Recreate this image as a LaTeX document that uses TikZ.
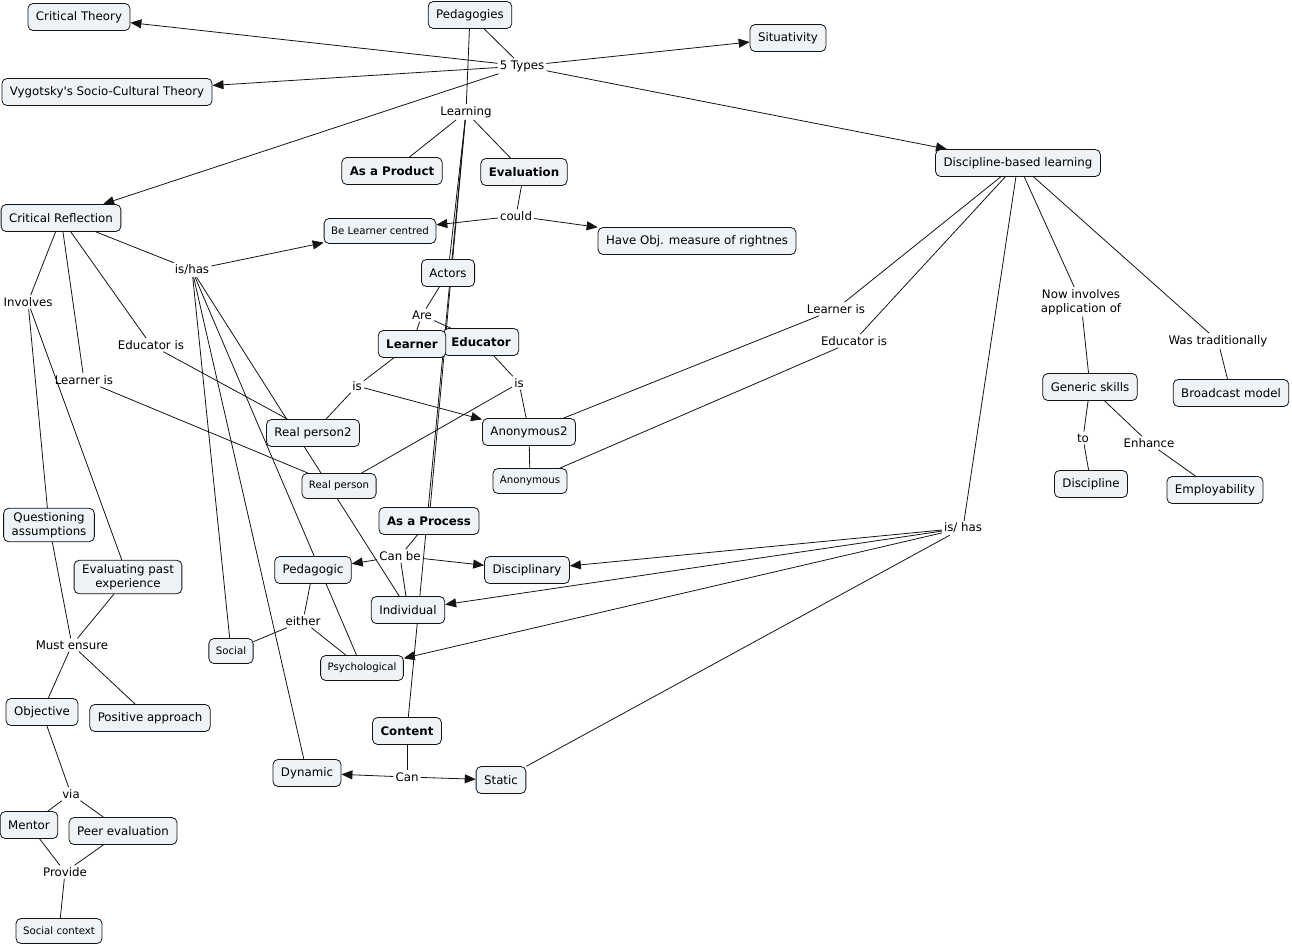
\documentclass[tikz,border=0pt]{standalone}
\usepackage{fontspec}
\setmainfont{DejaVu Sans}[Ligatures=TeXOff]
\usetikzlibrary{arrows.meta}
\pgfdeclarelayer{bg}
\pgfsetlayers{bg,main}
\definecolor{cfill}{RGB}{237,243,246}
\definecolor{cline}{RGB}{20,20,20}
\tikzset{
 concept/.style={draw=cline, fill=cfill, rounded corners=5pt, line width=0.8pt, inner xsep=8pt, inner ysep=2pt, minimum height=27pt, font=\fontsize{11.8}{14}\selectfont, align=center},
 sm/.style={font=\fontsize{10.2}{12}\selectfont, minimum height=25pt, inner xsep=7pt},
 bd/.style={font=\fontsize{11.8}{14}\selectfont\bfseries},
 lp/.style={inner sep=2pt, font=\fontsize{11.8}{14}\selectfont, align=center},
 ln/.style={line width=0.8pt, cline},
 ar/.style={ln, -{Triangle[length=11pt,width=9pt]}},
}
\begin{document}
\begin{tikzpicture}[x=1pt,y=-1pt]
\useasboundingbox (0,0) rectangle (1292,945);
% concepts
\node[concept] (ct) at (79,17) {Critical Theory};
\node[concept] (ped) at (470,15) {Pedagogies};
\node[concept] (sit) at (788,38) {Situativity};
\node[concept] (vyg) at (107,92) {Vygotsky's Socio-Cultural Theory};
\node[concept,bd] (prod) at (392,171) {As a Product};
\node[concept,bd] (eval) at (524,172) {Evaluation};
\node[concept] (dbl) at (1018,163) {Discipline-based learning};
\node[concept] (cr) at (61,218) {Critical Reflection};
\node[concept,sm] (blc) at (380,231) {Be Learner centred};
\node[concept] (hom) at (697,241) {Have Obj. measure of rightnes};
\node[concept] (act) at (448,273) {Actors};
\node[concept,bd] (edu) at (481,342) {Educator};
\node[concept,bd] (lrn) at (412,344) {Learner};
\node[concept] (rp2) at (313,433) {Real person2};
\node[concept] (an2) at (529,432) {Anonymous2};
\node[concept,sm] (rp) at (339,486) {Real person};
\node[concept,sm] (an) at (530,481) {Anonymous};
\node[concept,bd] (proc) at (429,521) {As a Process};
\node[concept] (pedg) at (313,570) {Pedagogic};
\node[concept] (disc) at (527,570) {Disciplinary};
\node[concept] (ind) at (408,610) {Individual};
\node[concept,sm] (soc) at (231,651) {Social};
\node[concept,sm] (psy) at (362,668) {Psychological};
\node[concept,bd] (cont) at (407,731) {Content};
\node[concept] (dyn) at (307,773) {Dynamic};
\node[concept] (stat) at (501,780) {Static};
\node[concept,inner ysep=4pt] (qa) at (49,525) {Questioning\\assumptions};
\node[concept,inner ysep=4pt] (epe) at (128,577) {Evaluating past\\experience};
\node[concept] (obj) at (42,712) {Objective};
\node[concept] (pos) at (150,718) {Positive approach};
\node[concept] (men) at (29,825) {Mentor};
\node[concept] (peer) at (123,831) {Peer evaluation};
\node[concept,sm] (sctx) at (59,931) {Social context};
\node[concept] (gen) at (1090,387) {Generic skills};
\node[concept] (bro) at (1231,393) {Broadcast model};
\node[concept] (dis2) at (1091,484) {Discipline};
\node[concept] (emp) at (1215,490) {Employability};
% linking phrases
\node[lp] (l5) at (522,66) {5 Types};
\node[lp] (llearn) at (466,112) {Learning};
\node[lp] (lcould) at (516,216) {could};
\node[lp] (lish) at (192,270) {is/has};
\node[lp] (linv) at (28,302) {Involves};
\node[lp] (ledu) at (151,345) {Educator is};
\node[lp] (llrn) at (84,380) {Learner is};
\node[lp] (lare) at (422,315) {Are};
\node[lp] (lis1) at (357,386) {is};
\node[lp] (lis2) at (519,383) {is};
\node[lp] (lcanbe) at (400,556) {Can be};
\node[lp] (leither) at (303,621) {either};
\node[lp] (lcan) at (407,777) {Can};
\node[lp] (lmust) at (72,645) {Must ensure};
\node[lp] (lvia) at (71,794) {via};
\node[lp] (lprov) at (65,872) {Provide};
\node[lp] (llrn2) at (836,309) {Learner is};
\node[lp] (ledu2) at (854,341) {Educator is};
\node[lp] (lnow) at (1081,302) {Now involves\\application of};
\node[lp] (lwas) at (1218,341) {Was traditionally};
\node[lp] (lto) at (1083,438) {to};
\node[lp] (lenh) at (1149,443) {Enhance};
\node[lp] (lish2) at (963,528) {is/ has};
% connectors
\begin{pgfonlayer}{bg}
\draw[ln] (ped) -- (l5);
\draw[ar] (l5) -- (ct);
\draw[ar] (l5) -- (vyg);
\draw[ar] (l5) -- (cr);
\draw[ar] (l5) -- (sit);
\draw[ar] (l5) -- (dbl);
\draw[ln] (ped) -- (llearn);
\draw[ln] (llearn) -- (prod);
\draw[ln] (llearn) -- (eval);
\draw[ln] (llearn) -- (act);
\draw[ln] (llearn) -- (proc);
\draw[ln] (llearn) -- (cont);
\draw[ln] (eval) -- (lcould);
\draw[ar] (lcould) -- (blc);
\draw[ar] (lcould) -- (hom);
\draw[ln] (cr) -- (lish);
\draw[ar] (lish) -- (blc);
\draw[ln] (lish) -- (soc);
\draw[ln] (lish) -- (dyn);
\draw[ln] (lish) -- (psy);
\draw[ln] (lish) -- (ind);
\draw[ln] (cr) -- (linv);
\draw[ln] (linv) -- (qa);
\draw[ln] (linv) -- (epe);
\draw[ln] (cr) -- (llrn);
\draw[ln] (llrn) -- (rp);
\draw[ln] (cr) -- (ledu);
\draw[ln] (ledu) -- (rp2);
\draw[ln] (qa) -- (lmust);
\draw[ln] (epe) -- (lmust);
\draw[ln] (lmust) -- (obj);
\draw[ln] (lmust) -- (pos);
\draw[ln] (obj) -- (lvia);
\draw[ln] (lvia) -- (men);
\draw[ln] (lvia) -- (peer);
\draw[ln] (men) -- (lprov);
\draw[ln] (peer) -- (lprov);
\draw[ln] (lprov) -- (sctx);
\draw[ln] (act) -- (lare);
\draw[ln] (lare) -- (lrn);
\draw[ln] (lare) -- (edu);
\draw[ln] (lrn) -- (lis1);
\draw[ln] (lis1) -- (rp2);
\draw[ar] (lis1) -- (an2);
\draw[ln] (edu) -- (lis2);
\draw[ln] (lis2) -- (an2);
\draw[ln] (lis2) -- (rp);
\draw[ln] (an2) -- (an);
\draw[ln] (dbl) -- (llrn2);
\draw[ln] (llrn2) -- (an2);
\draw[ln] (dbl) -- (ledu2);
\draw[ln] (ledu2) -- (an);
\draw[ln] (dbl) -- (lish2);
\draw[ar] (lish2) -- (disc);
\draw[ar] (lish2) -- (ind);
\draw[ar] (lish2) -- (psy);
\draw[ln] (lish2) -- (stat);
\draw[ln] (dbl) -- (lnow);
\draw[ln] (lnow) -- (gen);
\draw[ln] (dbl) -- (lwas);
\draw[ln] (lwas) -- (bro);
\draw[ln] (gen) -- (lto);
\draw[ln] (lto) -- (dis2);
\draw[ln] (gen) -- (lenh);
\draw[ln] (lenh) -- (emp);
\draw[ln] (cont) -- (lcan);
\draw[ar] (lcan) -- (dyn);
\draw[ar] (lcan) -- (stat);
\draw[ln] (proc) -- (lcanbe);
\draw[ar] (lcanbe) -- (pedg);
\draw[ar] (lcanbe) -- (disc);
\draw[ln] (lcanbe) -- (ind);
\draw[ln] (pedg) -- (leither);
\draw[ln] (leither) -- (soc);
\draw[ln] (leither) -- (psy);
\end{pgfonlayer}
\end{tikzpicture}
\end{document}
